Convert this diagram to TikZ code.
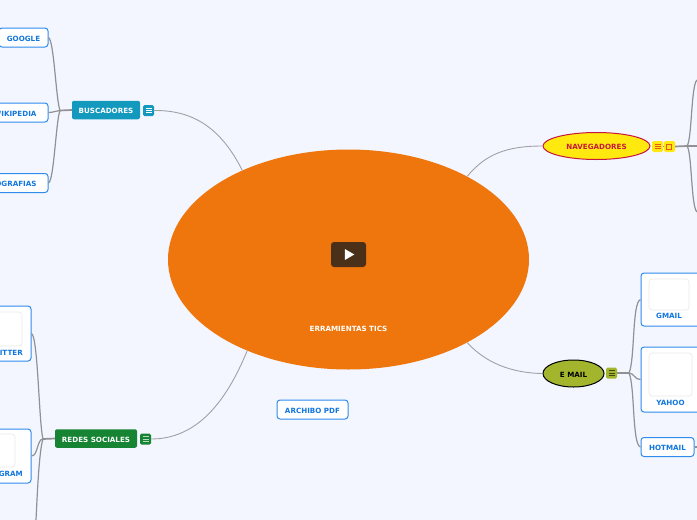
\documentclass[tikz,border=0pt]{standalone}
\usepackage{fontspec}
\setmainfont{DejaVu Sans}
\usetikzlibrary{shapes.geometric}
\definecolor{mmback}{HTML}{F3F6FF}
\definecolor{mmline}{HTML}{909096}
\definecolor{mmblue}{HTML}{2F8BEC}
\definecolor{mmtext}{HTML}{1176DE}
\definecolor{mmorange}{HTML}{EF760C}
\definecolor{mmplay}{HTML}{4B3019}
\definecolor{mmteal}{HTML}{1499BE}
\definecolor{mmgreen}{HTML}{178434}
\definecolor{mmyellow}{HTML}{FFE90F}
\definecolor{mmcrimson}{HTML}{C8173C}
\definecolor{mmolive}{HTML}{A2B52D}
\tikzset{
  mmlabel/.style={font=\bfseries\fontsize{7.15}{8}\selectfont, inner sep=0pt, text height=7pt, text depth=0pt},
  mmleaf/.style={mmlabel, rectangle, rounded corners=3pt, draw=mmblue, line width=1pt, fill=white, text=mmtext, minimum height=19pt},
  mmframe/.style={rectangle, rounded corners=3pt, draw=mmblue, line width=1pt, fill=white, inner sep=0pt},
  mmimage/.style={rectangle, rounded corners=3pt, draw=black!8, line width=.7pt, fill=white, inner sep=0pt},
  mmcaption/.style={mmlabel, text=mmtext},
  mmtopic/.style={mmlabel, rectangle, rounded corners=2pt, text=white, minimum height=18.5pt},
  mmoval/.style={mmlabel, ellipse, line width=1pt, minimum height=27pt},
  mmicon/.style={rectangle, rounded corners=1.5pt, inner sep=0pt, minimum width=11pt, minimum height=11pt,
    path picture={\foreach \k in {-2.3,0,2.3} \draw[#1, line width=.7pt]
      ([xshift=-3pt,yshift=\k pt]path picture bounding box.center) -- ([xshift=3pt,yshift=\k pt]path picture bounding box.center);}},
  mmspoke/.style={draw=mmline!85!white, line width=.9pt},
  mmedge/.style={draw=mmline, line width=1.2pt},
  mmbranch/.style={draw=mmline, line width=1.7pt}
}

\begin{document}
\begin{tikzpicture}[x=1pt, y=-1pt]
\fill[mmback] (0,0) rectangle (697,520);
\clip (0,0) rectangle (697,520);

% centre
\node[ellipse, fill=mmorange, inner sep=0pt, minimum width=361pt, minimum height=220pt] (central) at (348.5,259.5) {};
\node[rectangle, rounded corners=3pt, fill=mmplay, minimum width=35pt, minimum height=25pt] (playbox) at (348.5,254.5) {};
\node[isosceles triangle, isosceles triangle apex angle=60, fill=white, inner sep=0pt, minimum height=9pt, minimum width=11pt] (playmark) at (348,254.5) {};
\node[mmlabel, text=white] (centraltext) at (348.5,328) {ERRAMIENTAS TICS};
\node[mmleaf, minimum width=71pt] (pdf) at (312.5,409.5) {ARCHIBO PDF};

% buscadores
\node[mmtopic, fill=mmteal, minimum width=68pt] (busc) at (106,110) {BUSCADORES};
\node[mmicon=white, fill=mmteal] (buscicon) at (148.5,110.5) {};
\node[mmleaf, minimum width=49pt] (google) at (23.5,37.5) {GOOGLE};
\node[mmleaf, minimum width=66pt] (wiki) at (15,112.5) {WIKIPEDIA};
\node[mmleaf, minimum width=80pt] (foto) at (8,183) {FOTOGRAFIAS};
\coordinate (buschub) at (60,110.5);

% redes sociales
\node[mmtopic, fill=mmgreen, minimum width=82pt] (redes) at (96,438.5) {REDES SOCIALES};
\node[mmicon=white!70!mmgreen, fill=mmgreen] (redesicon) at (145.5,439) {};
\node[mmframe, minimum width=62pt, minimum height=55pt] (twitter) at (0,333.5) {};
\node[mmimage, minimum width=44pt, minimum height=34pt] (twitterimg) at (0,329) {};
\node[mmcaption, anchor=east] (twittertext) at (23,351.5) {TWITTER};
\node[mmframe, minimum width=62pt, minimum height=54pt] (insta) at (0,456) {};
\node[mmimage, minimum width=30pt, minimum height=33pt] (instaimg) at (0,450.5) {};
\node[mmcaption, anchor=east] (instatext) at (23,472.5) {INSTAGRAM};
\coordinate (redeshub) at (43,439);
\coordinate (redesend) at (36,520);

% navegadores
\node[mmoval, draw=mmcrimson, fill=mmyellow, text=mmcrimson, minimum width=107pt] (nav) at (596.5,146) {NAVEGADORES};
\node[mmicon=mmcrimson!40!orange, fill=mmyellow] (navicon) at (657.5,146.5) {};
\node[rectangle, rounded corners=1.5pt, fill=mmyellow, inner sep=0pt, minimum width=11pt, minimum height=11pt] (navlink) at (669.5,146.5) {};
\draw[mmcrimson!40!orange, line width=.7pt] (666.8,144.5) rectangle (671.5,149.5);
\coordinate (navhub) at (687,146);
\coordinate (navup) at (697,80);
\coordinate (navmid) at (697,146);
\coordinate (navdown) at (697,212);

% e mail
\node[mmoval, draw=black, fill=mmolive, text=black, minimum width=61pt] (mail) at (573.5,373.5) {E MAIL};
\node[mmicon=black!60!mmolive, fill=mmolive] (mailicon) at (611.5,373) {};
\node[mmframe, minimum width=60pt, minimum height=53pt] (gmail) at (671,299.5) {};
\node[mmimage, minimum width=40pt, minimum height=31pt] (gmailimg) at (669,294.5) {};
\node[mmcaption] (gmailtext) at (669,315) {GMAIL};
\node[mmframe, minimum width=60pt, minimum height=65pt] (yahoo) at (671,379.5) {};
\node[mmimage, minimum width=43pt, minimum height=43pt] (yahooimg) at (670.5,374.5) {};
\node[mmcaption] (yahootext) at (670.5,402) {YAHOO};
\node[mmleaf, minimum width=53pt] (hotmail) at (667.5,447) {HOTMAIL};
\coordinate (mailhub) at (629,373);
\coordinate (hotmailend) at (697,447);

% connectors
\draw[mmspoke] (buscicon.east) .. controls (195,110) and (222,130) .. (central.140.6);
\draw[mmspoke] (redesicon.east) .. controls (195,439) and (225,405) .. (central.222.3);
\draw[mmspoke] (central.35.5) .. controls (485,155) and (505,146) .. (nav.west);
\draw[mmspoke] (central.-35.5) .. controls (485,362) and (510,373) .. (mail.west);

\draw[mmbranch] (busc.west) -- (buschub);
\draw[mmedge] (buschub) .. controls (56,100) and (54,40) .. (google.east);
\draw[mmedge] (buschub) .. controls (56,110.5) and (54,112.5) .. (wiki.east);
\draw[mmedge] (buschub) .. controls (56,120) and (54,181) .. (foto.east);

\draw[mmbranch] (redes.west) -- (redeshub);
\draw[mmedge] (redeshub) .. controls (39,425) and (38,336) .. (twitter.east);
\draw[mmedge] (redeshub) .. controls (37,439) and (38,456) .. (insta.east);
\draw[mmedge] (redeshub) .. controls (39,450) and (37,500) .. (redesend);

\draw[mmedge] (navicon.east) -- (navlink.west);
\draw[mmbranch] (navlink.east) -- (navhub);
\draw[mmedge] (navhub) .. controls (692,140) and (691,85) .. (navup);
\draw[mmedge] (navhub) -- (navmid);
\draw[mmedge] (navhub) .. controls (692,152) and (691,207) .. (navdown);

\draw[mmbranch] (mailicon.east) -- (mailhub);
\draw[mmedge] (mailhub) .. controls (635,360) and (632,302) .. (gmail.west);
\draw[mmedge] (mailhub) .. controls (634,373) and (635,380) .. (yahoo.west);
\draw[mmedge] (mailhub) .. controls (635,386) and (632,445) .. (hotmail.west);
\draw[mmedge] (hotmail.east) -- (hotmailend);
\end{tikzpicture}
\end{document}
